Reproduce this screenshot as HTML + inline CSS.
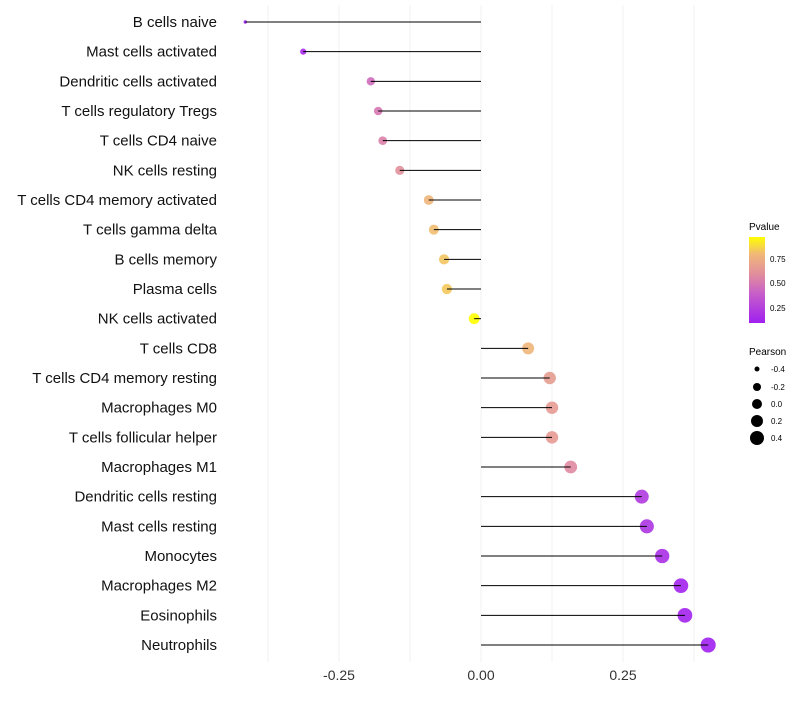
<!DOCTYPE html>
<html><head><meta charset="utf-8"><style>
body{margin:0;background:#fff;font-family:"Liberation Sans",sans-serif;}
</style></head><body>
<svg id="chart" width="800" height="700" xmlns="http://www.w3.org/2000/svg">
<defs><linearGradient id="pg" x1="0" y1="1" x2="0" y2="0">
<stop offset="0" stop-color="#a020f0"/><stop offset="0.35" stop-color="#c860c8"/><stop offset="0.55" stop-color="#e08aa0"/><stop offset="0.8" stop-color="#f0b878"/><stop offset="1" stop-color="#ffff00"/></linearGradient></defs>
<g id="grid"></g><g id="dots"></g><g id="marks"></g><g id="labels"></g>
<g>
<text x="749" y="230" font-size="10">Pvalue</text>
<rect x="749" y="237" width="16" height="86" fill="url(#pg)"/>
<text x="770" y="262" font-size="8">0.75</text>
<text x="770" y="286" font-size="8">0.50</text>
<text x="770" y="311" font-size="8">0.25</text>
</g>
<g>
<text x="749" y="355" font-size="10">Pearson</text>
<circle cx="757" cy="369" r="2.5"/><text x="771" y="372" font-size="8">-0.4</text>
<circle cx="757" cy="387" r="4"/><text x="771" y="390" font-size="8">-0.2</text>
<circle cx="757" cy="404" r="5"/><text x="771" y="407" font-size="8">0.0</text>
<circle cx="757" cy="421" r="6"/><text x="771" y="424" font-size="8">0.2</text>
<circle cx="757" cy="438" r="7"/><text x="771" y="441" font-size="8">0.4</text>
</g>
</svg>
<script>
const categories=["B cells naive","Mast cells activated","Dendritic cells activated","T cells regulatory  Tregs ","T cells CD4 naive","NK cells resting","T cells CD4 memory activated","T cells gamma delta","B cells memory","Plasma cells","NK cells activated","T cells CD8","T cells CD4 memory resting","Macrophages M0","T cells follicular helper","Macrophages M1","Dendritic cells resting","Mast cells resting","Monocytes","Macrophages M2","Eosinophils","Neutrophils"];
const pearson=[-0.415,-0.313,-0.194,-0.181,-0.173,-0.143,-0.092,-0.083,-0.065,-0.060,-0.012,0.083,0.121,0.125,0.125,0.158,0.283,0.292,0.319,0.352,0.359,0.400];
const pvalue=[0.10,0.15,0.45,0.50,0.53,0.60,0.78,0.80,0.82,0.83,0.96,0.78,0.66,0.65,0.65,0.57,0.22,0.20,0.17,0.12,0.12,0.10];
const ticks=[-0.25,0,0.25];
const tickLabels=["-0.25","0.00","0.25"];
const ns="http://www.w3.org/2000/svg";
const X=v=>481+v*568, Y=i=>22+i*29.667;
function col(p){const t=Math.max(0,Math.min(1,(p-0.1)/0.86));
const st=[[0,[160,32,240]],[0.35,[200,96,200]],[0.55,[224,138,160]],[0.8,[240,184,120]],[1,[255,255,0]]];
for(let k=1;k<st.length;k++){if(t<=st[k][0]){const a=st[k-1],b=st[k],f=(t-a[0])/(b[0]-a[0]);return "rgb("+a[1].map((c,j)=>Math.round(c+(b[1][j]-c)*f)).join(",")+")";}}return "#ff0";}
function mk(tag,at,parent){const e=document.createElementNS(ns,tag);for(const k in at)e.setAttribute(k,at[k]);document.getElementById(parent).appendChild(e);return e;}
for(let g=-0.375;g<=0.4;g+=0.125){const l=mk("line",{x1:X(g),x2:X(g),y1:5,y2:662,stroke:"#f0f0f0","stroke-width":1},"grid");

}
ticks.forEach((t,i)=>{const e=mk("text",{x:X(t),y:680,"font-size":14,"text-anchor":"middle",fill:"#333"},"labels");e.textContent=tickLabels[i];

});
categories.forEach((c,i)=>{
const t=mk("text",{x:217,y:Y(i)+5,"font-size":15,"text-anchor":"end",fill:"#111"},"labels");t.textContent=c;


const d=mk("circle",{cx:X(pearson[i]),cy:Y(i),r:Math.sqrt(Math.max(2,66*(pearson[i]+0.46))),fill:col(pvalue[i]),"fill-opacity":0.9},"dots");


const l=mk("line",{x1:X(0),x2:X(pearson[i]),y1:Y(i),y2:Y(i),stroke:"#000","stroke-width":1},"marks");


});
</script>
</body></html>
